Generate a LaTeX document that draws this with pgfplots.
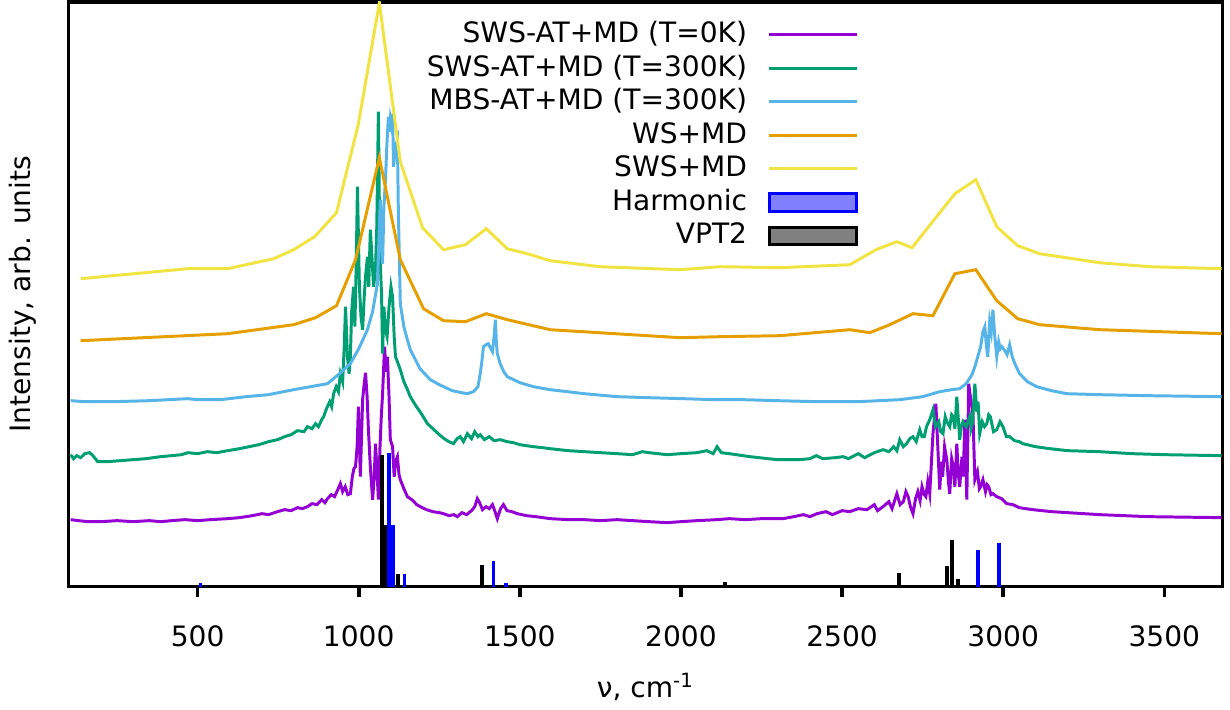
\documentclass[border=0pt]{standalone}
\usepackage{fontspec}
\setmainfont{DejaVu Sans}
\usepackage{pgfplots}
\pgfplotsset{compat=1.18}
\definecolor{cpur}{HTML}{9400D3}
\definecolor{cgrn}{HTML}{009E73}
\definecolor{cblu}{HTML}{56B4E9}
\definecolor{corg}{HTML}{E69F00}
\definecolor{cyel}{HTML}{F0E442}
\pgfplotsset{
  linelegend/.style={legend image code/.code={\draw[##1,line width=1.1pt] (0cm,0cm) -- (1.14cm,0cm);}},
}
\begin{document}
\begin{tikzpicture}[font=\fontsize{10.4}{12.5}\selectfont]
\begin{axis}[
  scale only axis, width=15.01cm, height=7.61cm,
  xmin=100, xmax=3680, ymin=0, ymax=585,
  axis line style={line width=1.3pt},
  xtick={500,1000,...,3500}, ytick=\empty,
  xtick pos=bottom, xtick align=outside,
  major tick length=0.13cm,
  every tick/.style={line width=1.3pt,black},
  /pgf/number format/assume math mode=true,
  /pgf/number format/1000 sep={},
  xticklabel style={yshift=-0.25cm},
  xlabel={ν, cm\textsuperscript{-1}},
  xlabel style={yshift=-0.1cm},
  ylabel={Intensity, arb. units},
  ylabel style={at={(axis description cs:-0.04,0.5)},anchor=center},
  legend style={draw=none,fill=none,at={(axis description cs:0.692,0.982)},anchor=north east,
    legend cell align=right,column sep=0.27cm,row sep=0pt,
    nodes={inner sep=0pt,text height=9pt,text depth=3.4pt}},
  legend plot pos=right,
]
% SWS-AT+MD (T=0K)
\addplot[cpur,line width=1.1pt,linelegend] coordinates {
(106,67)(130,66)(160,65)(200,65)(250,66)(300,65)(350,66)(385,65)(420,66)(460,67)(500,66)(540,67)(593,68)(630,69)(670,71)(700,73)(720,72)(748,75)(770,77)(790,76)(810,79)(825,78)(841,80)(855,83)(870,82)(885,87)(895,84)(903,88)(915,92)(925,90)(935,97)(943,103)(950,95)(958,100)(966,92)(974,93)(980,110)(985,118)(990,120)(995,140)(999,180)(1005,110)(1012,187)(1016,200)(1021,214)(1026,190)(1030,157)(1036,120)(1043,87)(1048,110)(1052,143)(1056,120)(1061,87)(1066,140)(1070,170)(1074,193)(1080,240)(1085,215)(1089,230)(1094,190)(1098,147)(1105,140)(1110,110)(1114,125)(1120,130)(1125,112)(1129,107)(1140,98)(1151,90)(1165,87)(1180,82)(1191,80)(1210,77)(1230,75)(1250,74)(1263,73)(1280,71)(1295,72)(1306,70)(1320,74)(1335,72)(1350,76)(1360,80)(1368,88)(1375,84)(1384,77)(1395,80)(1405,78)(1415,82)(1423,75)(1430,68)(1440,78)(1449,82)(1460,76)(1475,75)(1492,73)(1520,71)(1550,70)(1594,68)(1650,67)(1700,67)(1750,66)(1802,67)(1850,66)(1900,65)(1957,64)(2000,65)(2050,66)(2112,67)(2150,68)(2200,67)(2250,68)(2317,68)(2350,70)(2380,72)(2400,70)(2422,73)(2450,75)(2470,72)(2500,76)(2524,75)(2550,78)(2577,77)(2600,82)(2610,76)(2627,80)(2645,85)(2655,78)(2670,93)(2680,82)(2690,85)(2698,95)(2705,90)(2712,80)(2720,73)(2728,88)(2735,95)(2742,86)(2748,100)(2755,92)(2760,90)(2766,105)(2772,93)(2782,153)(2791,183)(2797,140)(2803,97)(2808,125)(2812,110)(2818,140)(2825,127)(2830,105)(2834,93)(2840,128)(2845,120)(2850,100)(2856,143)(2860,115)(2865,100)(2872,130)(2876,110)(2881,167)(2887,87)(2893,203)(2900,185)(2906,173)(2912,107)(2920,115)(2926,98)(2930,100)(2937,107)(2945,95)(2950,102)(2955,100)(2962,92)(2968,93)(2980,90)(2995,88)(3011,83)(3030,82)(3050,79)(3070,78)(3092,77)(3150,75)(3200,74)(3299,72)(3450,70)(3678,69)
};
\addlegendentry{SWS-AT+MD (T=0K)}
% SWS-AT+MD (T=300K)
\addplot[cgrn,line width=1.1pt,linelegend] coordinates {
(106,132)(115,128)(125,131)(137,129)(150,133)(165,134)(175,131)(190,125)(220,125)(260,126)(300,127)(340,128)(385,130)(420,131)(450,132)(470,134)(500,133)(530,135)(560,134)(593,136)(630,138)(660,140)(690,142)(720,145)(748,147)(770,150)(790,152)(810,156)(830,155)(841,160)(855,158)(866,163)(875,160)(885,167)(891,170)(900,178)(910,185)(916,180)(922,193)(930,200)(937,195)(943,213)(950,205)(955,240)(959,280)(965,230)(970,213)(974,230)(978,275)(984,300)(988,260)(992,320)(996,400)(1002,300)(1007,270)(1012,257)(1017,290)(1021,310)(1027,330)(1031,300)(1036,357)(1041,330)(1046,300)(1052,317)(1056,360)(1061,475)(1064,380)(1067,323)(1071,290)(1074,233)(1078,280)(1083,257)(1088,250)(1094,280)(1100,300)(1105,290)(1110,250)(1114,230)(1120,225)(1129,217)(1140,205)(1150,198)(1160,190)(1175,182)(1190,175)(1200,170)(1213,163)(1230,158)(1250,152)(1265,148)(1280,145)(1294,143)(1305,148)(1315,150)(1325,145)(1337,153)(1350,148)(1360,155)(1370,150)(1377,152)(1390,147)(1405,150)(1420,146)(1439,147)(1460,145)(1480,144)(1500,142)(1520,141)(1542,140)(1570,139)(1594,138)(1650,136)(1700,135)(1750,134)(1802,133)(1850,132)(1880,135)(1900,134)(1957,132)(2000,133)(2050,134)(2080,136)(2100,133)(2112,140)(2125,134)(2150,133)(2214,130)(2270,128)(2300,127)(2369,127)(2400,128)(2420,131)(2440,128)(2480,129)(2503,130)(2520,128)(2550,133)(2570,129)(2600,134)(2627,137)(2645,135)(2660,140)(2670,136)(2679,147)(2690,140)(2700,143)(2710,148)(2720,150)(2730,145)(2741,157)(2748,150)(2755,150)(2762,160)(2772,167)(2782,177)(2790,160)(2800,165)(2806,155)(2813,153)(2820,170)(2825,165)(2834,160)(2840,172)(2845,170)(2850,158)(2856,190)(2865,147)(2870,160)(2875,165)(2885,160)(2896,170)(2900,158)(2905,165)(2912,203)(2918,175)(2922,185)(2927,153)(2935,165)(2942,160)(2949,163)(2955,172)(2960,170)(2970,155)(2980,157)(2990,165)(2999,160)(3010,150)(3020,150)(3035,146)(3050,145)(3061,143)(3100,140)(3144,138)(3200,136)(3299,135)(3400,133)(3500,132)(3678,131)
};
\addlegendentry{SWS-AT+MD (T=300K)}
% MBS-AT+MD (T=300K)
\addplot[cblu,line width=1.1pt,linelegend] coordinates {
(106,186)(150,185)(240,185)(350,186)(469,188)(500,187)(571,187)(650,190)(720,192)(798,197)(850,200)(903,203)(940,213)(974,223)(1000,238)(1027,257)(1043,275)(1058,303)(1064,360)(1067,387)(1070,340)(1074,323)(1078,380)(1083,407)(1087,440)(1092,470)(1095,455)(1098,468)(1102,460)(1105,473)(1108,420)(1114,440)(1120,447)(1123,373)(1126,330)(1129,283)(1140,260)(1150,248)(1160,237)(1190,218)(1222,207)(1250,202)(1290,196)(1320,194)(1337,193)(1356,195)(1370,200)(1377,213)(1382,225)(1387,240)(1395,242)(1402,243)(1410,238)(1415,235)(1420,250)(1424,267)(1427,245)(1430,233)(1439,223)(1450,215)(1461,210)(1500,204)(1542,200)(1594,197)(1700,193)(1802,190)(1900,189)(2007,188)(2100,187)(2193,187)(2300,186)(2422,185)(2550,185)(2679,187)(2750,190)(2803,195)(2840,197)(2865,198)(2885,203)(2903,212)(2912,220)(2921,230)(2930,240)(2937,255)(2943,260)(2948,240)(2952,230)(2958,265)(2963,255)(2968,277)(2974,250)(2980,230)(2986,245)(2991,238)(2996,240)(3005,236)(3012,232)(3020,242)(3028,230)(3036,223)(3051,213)(3075,205)(3104,200)(3150,196)(3197,193)(3299,192)(3450,191)(3678,190)
};
\addlegendentry{MBS-AT+MD (T=300K)}
% WS+MD
\addplot[corg,line width=1.1pt,linelegend] coordinates {
(137,246)(593,253)(798,262)(866,269)(931,281)(990,327)(1064,429)(1129,327)(1201,278)(1263,266)(1331,265)(1396,273)(1461,267)(1594,257)(1997,249)(2121,250)(2307,251)(2524,257)(2586,254)(2648,262)(2720,273)(2782,271)(2850,313)(2915,317)(2980,286)(3045,268)(3113,262)(3299,257)(3678,253)
};
\addlegendentry{WS+MD}
% SWS+MD
\addplot[cyel,line width=1.1pt,linelegend] coordinates {
(137,308)(469,318)(593,318)(736,328)(798,337)(863,350)(931,374)(999,463)(1064,584)(1129,425)(1198,359)(1263,337)(1331,342)(1396,358)(1461,338)(1523,333)(1594,326)(1749,320)(1997,317)(2121,320)(2307,319)(2524,322)(2605,337)(2670,345)(2717,339)(2788,368)(2850,393)(2915,407)(2980,360)(3045,341)(3113,333)(3299,324)(3454,320)(3678,318)
};
\addlegendentry{SWS+MD}
% Harmonic
\addplot[ycomb,blue,line width=1.4pt,
  legend image code/.code={\draw[draw=blue,fill=blue!50,line width=1.1pt] (0cm,-0.115cm) rectangle (1.14cm,0.115cm);}]
  coordinates {(509,4)(1095,134)(1106,62)(1142,13)(1418,26)(1458,4)(2921,37)(2986,44)};
\addlegendentry{Harmonic}
% VPT2
\addplot[ycomb,black,line width=1.4pt,
  legend image code/.code={\draw[draw=black,fill=black!50,line width=1.1pt] (0cm,-0.115cm) rectangle (1.14cm,0.115cm);}]
  coordinates {(1072,132)(1083,62)(1123,13)(1382,22)(2137,5)(2239,2)(2462,2)(2530,2)(2676,14)(2825,21)(2840,47)(2859,8)};
\addlegendentry{VPT2}
\end{axis}
\path ([xshift=0.1cm]current axis.east);
\end{tikzpicture}
\end{document}
